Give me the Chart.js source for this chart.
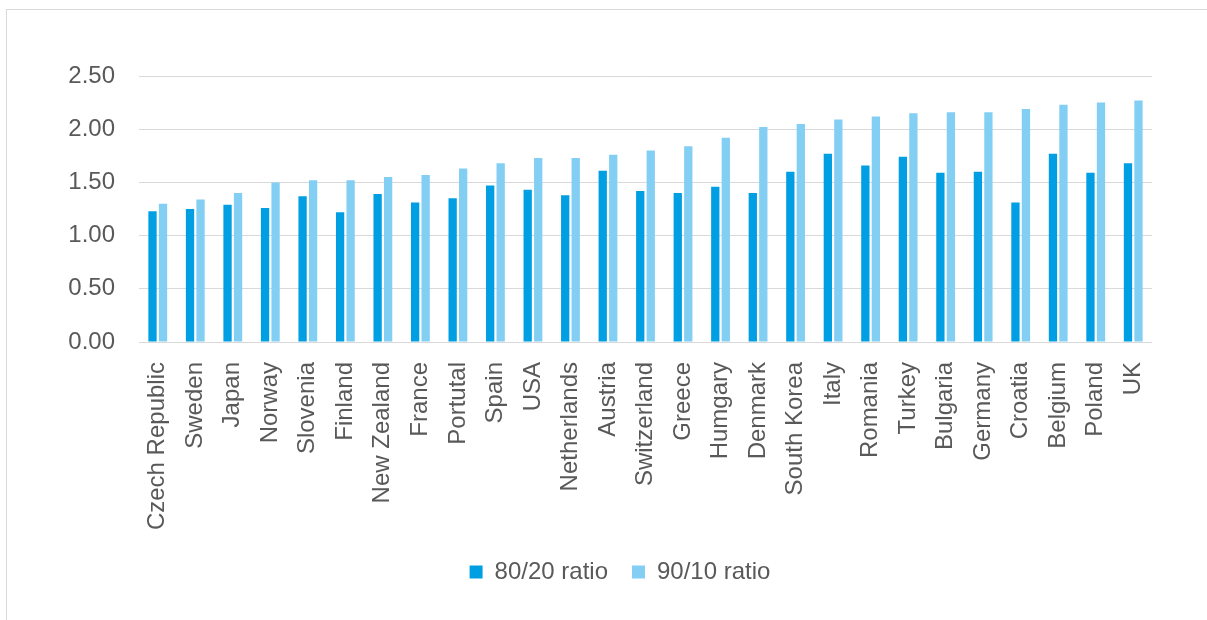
<!DOCTYPE html>
<html>
<head>
<meta charset="utf-8">
<script src="https://cdn.jsdelivr.net/npm/chart.js@4/dist/chart.umd.min.js"></script>
<style>
    html, body { margin: 0; padding: 0; background: #fff; }
    .wrap { position: relative; width: 1207px; height: 620px; }
    .frame { position: absolute; left: 6px; top: 9px; right: 0; bottom: 0; border-left: 1px solid #d9d9d9; border-top: 1px solid #d9d9d9; }
    canvas { position: absolute; left: 0; top: 0; }
</style>
</head>
<body>
<div class="wrap">
    <div class="frame"></div>
    <canvas id="ratioChart" width="1207" height="620"></canvas>
</div>
<script>
const countries = ['Czech Republic', 'Sweden', 'Japan', 'Norway', 'Slovenia', 'Finland', 'New Zealand', 'France', 'Portutal', 'Spain', 'USA', 'Netherlands', 'Austria', 'Switzerland', 'Greece', 'Humgary', 'Denmark', 'South Korea', 'Italy', 'Romania', 'Turkey', 'Bulgaria', 'Germany', 'Croatia', 'Belgium', 'Poland', 'UK'];
const ratio8020 = [1.23, 1.25, 1.29, 1.26, 1.37, 1.22, 1.39, 1.31, 1.35, 1.47, 1.43, 1.38, 1.61, 1.42, 1.40, 1.46, 1.40, 1.60, 1.77, 1.66, 1.74, 1.59, 1.60, 1.31, 1.77, 1.59, 1.68];
const ratio9010 = [1.30, 1.34, 1.40, 1.50, 1.52, 1.52, 1.55, 1.57, 1.63, 1.68, 1.73, 1.73, 1.76, 1.80, 1.84, 1.92, 2.02, 2.05, 2.09, 2.12, 2.15, 2.16, 2.16, 2.19, 2.23, 2.25, 2.27];
const yTicks = [0, 0.5, 1, 1.5, 2, 2.5];

const textColor = '#595959';
const fontFamily = '"Liberation Sans", Arial, Helvetica, sans-serif';

// the original legend sits centred under the plot, not under the whole canvas
const shiftLegend = {
    id: 'shiftLegend',
    afterLayout(chart) {
        chart.legend.left += 88;
    }
};

function initChart() {
    const ctx = document.getElementById('ratioChart').getContext('2d');
    new Chart(ctx, {
        type: 'bar',
        data: {
            labels: countries,
            datasets: [
                { label: '80/20 ratio', data: ratio8020, backgroundColor: '#009fe3' },
                { label: '90/10 ratio', data: ratio9010, backgroundColor: '#83cff4' }
            ]
        },
        options: {
            responsive: false,
            animation: false,
            datasets: { bar: { categoryPercentage: 0.56, barPercentage: 0.79 } },
            layout: { padding: { left: 0, right: 55, top: 76, bottom: 26 } },
            plugins: {
                tooltip: { enabled: false },
                legend: {
                    position: 'bottom',
                    labels: {
                        boxWidth: 13,
                        boxHeight: 13,
                        padding: 24,
                        color: textColor,
                        font: { family: fontFamily, size: 24 }
                    }
                }
            },
            scales: {
                y: {
                    min: 0,
                    max: 2.5,
                    afterBuildTicks: s => { s.ticks = yTicks.map(v => ({ value: v })); },
                    afterFit: s => { s.width = 139; },
                    border: { display: false },
                    grid: { color: '#d9d9d9', lineWidth: 1, drawTicks: false },
                    ticks: {
                        padding: 24,
                        color: textColor,
                        font: { family: fontFamily, size: 24 },
                        callback: v => v.toFixed(2)
                    }
                },
                x: {
                    afterFit: s => { s.height = 194; },
                    border: { display: false },
                    grid: { display: false },
                    ticks: {
                        autoSkip: false,
                        minRotation: 90,
                        maxRotation: 90,
                        padding: 12,
                        color: textColor,
                        font: { family: fontFamily, size: 24 }
                    }
                }
            }
        },
        plugins: [shiftLegend]
    });
}

document.addEventListener('DOMContentLoaded', initChart);
</script>
</body>
</html>
